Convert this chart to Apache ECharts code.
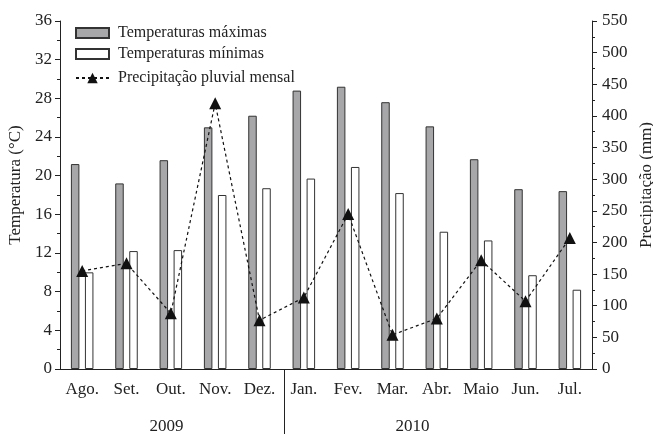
<!DOCTYPE html>
<html><head><meta charset="utf-8">
<script src="https://cdn.jsdelivr.net/npm/echarts@6/dist/echarts.min.js"></script>
<style>html,body{margin:0;padding:0;background:#fff;overflow:hidden}#c{width:653px;height:434px}</style>
</head><body><div id="c"></div>
<script>
const months = ['Ago.','Set.','Out.','Nov.','Dez.','Jan.','Fev.','Mar.','Abr.','Maio','Jun.','Jul.'];
const tempMax = [21.2,19.2,21.6,25.0,26.2,28.8,29.2,27.6,25.1,21.7,18.6,18.4];
const tempMin = [10.0,12.2,12.3,18.0,18.7,19.7,20.9,18.2,14.2,13.3,9.7,8.2];
const precip = [155,167,88,420,77,113,245,54,80,172,107,207];
const yearLabels = ['2009','2010'];
const yearLabelAt = [1.9, 7.45];   // position along the month axis (category index)
const yearSplitAt = 4.55;
const FONT = 'Liberation Serif';
const chart = echarts.init(document.getElementById('c'));
const axisCommon = {
  axisLine:{show:true,lineStyle:{color:'#222',width:1}},
  axisTick:{show:true,length:5,lineStyle:{color:'#222'}},
  minorTick:{show:true,splitNumber:2,length:3,lineStyle:{color:'#222'}},
  splitLine:{show:false},
  nameLocation:'middle',
  nameRotate:90,
  nameTextStyle:{color:'#222',fontFamily:FONT,fontSize:17,padding:[0,0,0,20]}
};
const legendText = {fontFamily:FONT,fontSize:16,color:'#222',padding:[0,0,0,4]};
chart.setOption({
  animation:false,
  textStyle:{fontFamily:FONT},
  grid:{left:60,right:61,top:21,bottom:65,containLabel:false,outerBoundsMode:'none'},
  legend:[{
    orient:'vertical',left:75,top:25,padding:0,itemWidth:33,itemHeight:10,itemGap:5,
    textStyle:legendText,
    data:[{name:'Temperaturas máximas',icon:'rect'},{name:'Temperaturas mínimas',icon:'rect'}]
  },{
    orient:'vertical',left:75,top:70,padding:0,itemWidth:33,itemHeight:13,
    textStyle:legendText,
    data:['Precipitação pluvial mensal']
  }],
  xAxis:{
    type:'category',data:months,
    axisLine:{lineStyle:{color:'#222'}},
    axisTick:{alignWithLabel:true,length:5,lineStyle:{color:'#222'}},
    axisLabel:{interval:0,color:'#222',fontFamily:FONT,fontSize:17,margin:12}
  },
  yAxis:[
    Object.assign({},axisCommon,{type:'value',min:0,max:36,interval:4,name:'Temperatura (°C)',nameGap:28,position:'left',
      axisLabel:{color:'#222',fontFamily:FONT,fontSize:17,margin:8}}),
    Object.assign({},axisCommon,{type:'value',min:0,max:550,interval:50,name:'Precipitação (mm)',nameGap:37,position:'right',
      axisLabel:{color:'#222',fontFamily:FONT,fontSize:17,margin:10}})
  ],
  series:[
    {name:'Temperaturas máximas',type:'bar',data:tempMax,barWidth:8.5,barGap:'65%',
     itemStyle:{color:'#a7a7a9',borderColor:'#333',borderWidth:1}},
    {name:'Temperaturas mínimas',type:'bar',data:tempMin,barWidth:8.5,barGap:'65%',
     itemStyle:{color:'#ffffff',borderColor:'#333',borderWidth:1}},
    {name:'Precipitação pluvial mensal',type:'line',yAxisIndex:1,data:precip,
     symbol:'triangle',symbolSize:12,
     lineStyle:{color:'#111',width:1.2,type:[3,3]},
     itemStyle:{color:'#111'},z:5}
  ]
});
function catPx(f){
  const i = Math.floor(f), t = f - i;
  const a = chart.convertToPixel({xAxisIndex:0}, i);
  const b = chart.convertToPixel({xAxisIndex:0}, i+1);
  return a + (b - a) * t;
}
function drawYears(){
  const g = [];
  const bottom = chart.convertToPixel({yAxisIndex:0},0);
  yearLabels.forEach((lab,k)=>{
    g.push({type:'text',x:catPx(yearLabelAt[k]),y:bottom+58,style:{text:lab,font:'17px "Liberation Serif"',fill:'#222',textAlign:'center',textVerticalAlign:'middle'}});
  });
  const sx = Math.round(catPx(yearSplitAt))+0.5;
  g.push({type:'line',shape:{x1:sx,y1:bottom,x2:sx,y2:434},style:{stroke:'#222',lineWidth:1}});
  chart.setOption({graphic:g});
}
drawYears();
</script></body></html>
